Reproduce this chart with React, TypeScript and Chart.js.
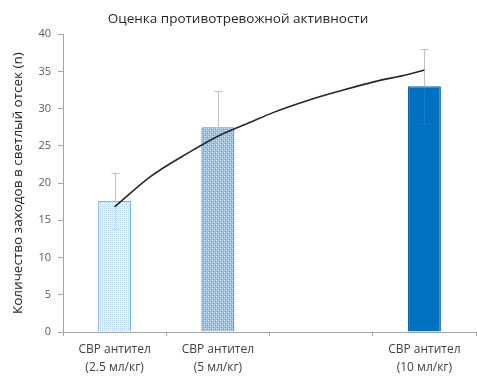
import React, { useEffect, useRef } from "react";
import { Chart, registerables } from "chart.js";

Chart.register(...registerables);

// Groups on the x axis (third slot intentionally left empty)
const categories: (string | string[])[] = [
  ["СВР антител", "(2.5 мл/кг)"],
  ["СВР антител", "(5 мл/кг)"],
  "",
  ["СВР антител", "(10 мл/кг)"],
];
const means: (number | null)[] = [17.6, 27.5, null, 33.0];
const errors: (number | null)[] = [3.8, 4.9, null, 5.0];

// Trend curve, positions in category units (1 = first group)
const trendX = [1.0, 1.35, 1.73, 2.0, 2.32, 2.54, 2.87, 3.19, 3.51, 3.84, 4.0];
const trendY = [16.8, 20.9, 24.2, 26.3, 28.2, 29.5, 31.1, 32.4, 33.6, 34.6, 35.2];

const yTicks = [0, 5, 10, 15, 20, 25, 30, 35, 40];

const FONT = "'Open Sans', 'Noto Sans', sans-serif";

function makePattern(bg: string, cells: [number, number, string][], size: number) {
  const c = document.createElement("canvas");
  c.width = size;
  c.height = size;
  const g = c.getContext("2d")!;
  g.fillStyle = bg;
  g.fillRect(0, 0, size, size);
  for (const [x, y, col] of cells) {
    g.fillStyle = col;
    g.fillRect(x, y, 1, 1);
  }
  return g.createPattern(c, "repeat")!;
}

const errorBars = {
  id: "errorBars",
  afterDatasetDraw(chart: any, args: any) {
    if (args.index !== 0) return;
    const ctx = chart.ctx;
    const meta = chart.getDatasetMeta(0);
    const y = chart.scales.y;
    ctx.save();
    ctx.lineWidth = 1;
    meta.data.forEach((bar: any, i: number) => {
      const m = means[i];
      const e = errors[i];
      if (m == null || e == null) return;
      const x = Math.round(bar.x) + 0.5;
      const yTop = y.getPixelForValue(m + e);
      const yBot = y.getPixelForValue(m - e);
      const yMid = y.getPixelForValue(m);
      // part above the bar
      ctx.strokeStyle = "#c0c0c0";
      ctx.beginPath();
      ctx.moveTo(x, yTop);
      ctx.lineTo(x, yMid);
      ctx.moveTo(x - 4, Math.round(yTop) + 0.5);
      ctx.lineTo(x + 4, Math.round(yTop) + 0.5);
      ctx.stroke();
      // part inside the bar
      ctx.strokeStyle = i === 3 ? "rgba(200,200,200,0.12)" : "rgba(200,215,230,0.7)";
      ctx.beginPath();
      ctx.moveTo(x, yMid);
      ctx.lineTo(x, yBot);
      ctx.moveTo(x - 4, Math.round(yBot) + 0.5);
      ctx.lineTo(x + 4, Math.round(yBot) + 0.5);
      ctx.stroke();
    });
    ctx.restore();
  },
};

export default function App() {
  const ref = useRef<HTMLCanvasElement | null>(null);

  useEffect(() => {
    const canvas = ref.current;
    if (!canvas) return;

    const lightDots = makePattern(
      "#eef6fc",
      [
        [0, 0, "#b5d3ee"],
        [2, 0, "#b5d3ee"],
        [0, 2, "#b5d3ee"],
        [2, 2, "#b5d3ee"],
        [1, 1, "#d6e7f6"],
        [3, 3, "#d6e7f6"],
      ],
      4
    );
    const denseDots = makePattern(
      "#8cc0ec",
      [
        [0, 0, "#d4e8f9"],
        [2, 2, "#d4e8f9"],
        [0, 2, "#b7d8f3"],
        [2, 0, "#b7d8f3"],
        [1, 3, "#5c9fdc"],
        [3, 1, "#5c9fdc"],
      ],
      4
    );

    const chart = new Chart(canvas, {
      type: "bar",
      data: {
        labels: categories as any,
        datasets: [
          {
            type: "bar",
            data: means as any,
            backgroundColor: [lightDots, denseDots, "#0070c0", "#0070c0"] as any,
            borderColor: ["#7fb2df", "#4f93d2", "#0a63a8", "#0a63a8"],
            borderWidth: 1.3,
            barPercentage: 0.32,
            categoryPercentage: 1,
            grouped: false,
            order: 2,
          } as any,
          {
            type: "line",
            xAxisID: "xt",
            data: trendX.map((x, i) => ({ x, y: trendY[i] })),
            borderColor: "#262626",
            borderWidth: 1.6,
            pointRadius: 0,
            cubicInterpolationMode: "monotone",
            fill: false,
            order: 1,
          } as any,
        ],
      },
      options: {
        responsive: false,
        animation: false,
        layout: { padding: { left: 0, right: 1, top: 0, bottom: 0 } },
        plugins: {
          legend: { display: false },
          tooltip: { enabled: false },
          title: {
            display: true,
            text: "Оценка противотревожной активности",
            color: "#262626",
            font: { family: FONT, size: 13.5, weight: "normal" },
            padding: { top: 11, bottom: 7 },
          },
        },
        scales: {
          x: {
            type: "category",
            offset: true,
            grid: {
              display: true,
              offset: true,
              drawOnChartArea: false,
              drawTicks: true,
              tickLength: 4,
              color: "#a6a6a6",
            },
            border: { display: true, color: "#a6a6a6", width: 1 },
            ticks: {
              color: "#404040",
              font: { family: FONT, size: 12, lineHeight: 1.5 },
              padding: 5,
              maxRotation: 0,
              autoSkip: false,
            },
            afterFit(scale: any) {
              scale.height = 45;
            },
          },
          xt: {
            type: "linear",
            display: false,
            offset: false,
            grid: { offset: false },
            min: 0.5,
            max: 4.5,
          },
          y: {
            type: "linear",
            min: 0,
            max: 40,
            afterBuildTicks(scale: any) {
              scale.ticks = yTicks.map((v) => ({ value: v }));
            },
            grid: {
              display: true,
              drawOnChartArea: false,
              drawTicks: true,
              tickLength: 5,
              color: "#a6a6a6",
            },
            border: { display: true, color: "#a6a6a6", width: 1 },
            ticks: {
              color: "#595959",
              font: { family: FONT, size: 11 },
              padding: 7,
            },
            title: {
              display: true,
              text: "Количество заходов в светлый отсек (n)",
              color: "#262626",
              font: { family: FONT, size: 13.5, weight: "normal" },
              padding: { top: 10, bottom: 0 },
            },
            afterFit(scale: any) {
              scale.width = 63;
            },
          },
        },
      },
      plugins: [errorBars],
    });

    return () => chart.destroy();
  }, []);

  return (
    <div style={{ position: "absolute", left: 0, top: 0, width: 477, height: 377, background: "#ffffff" }}>
      <canvas ref={ref} width={477} height={377} style={{ display: "block" }} />
    </div>
  );
}
